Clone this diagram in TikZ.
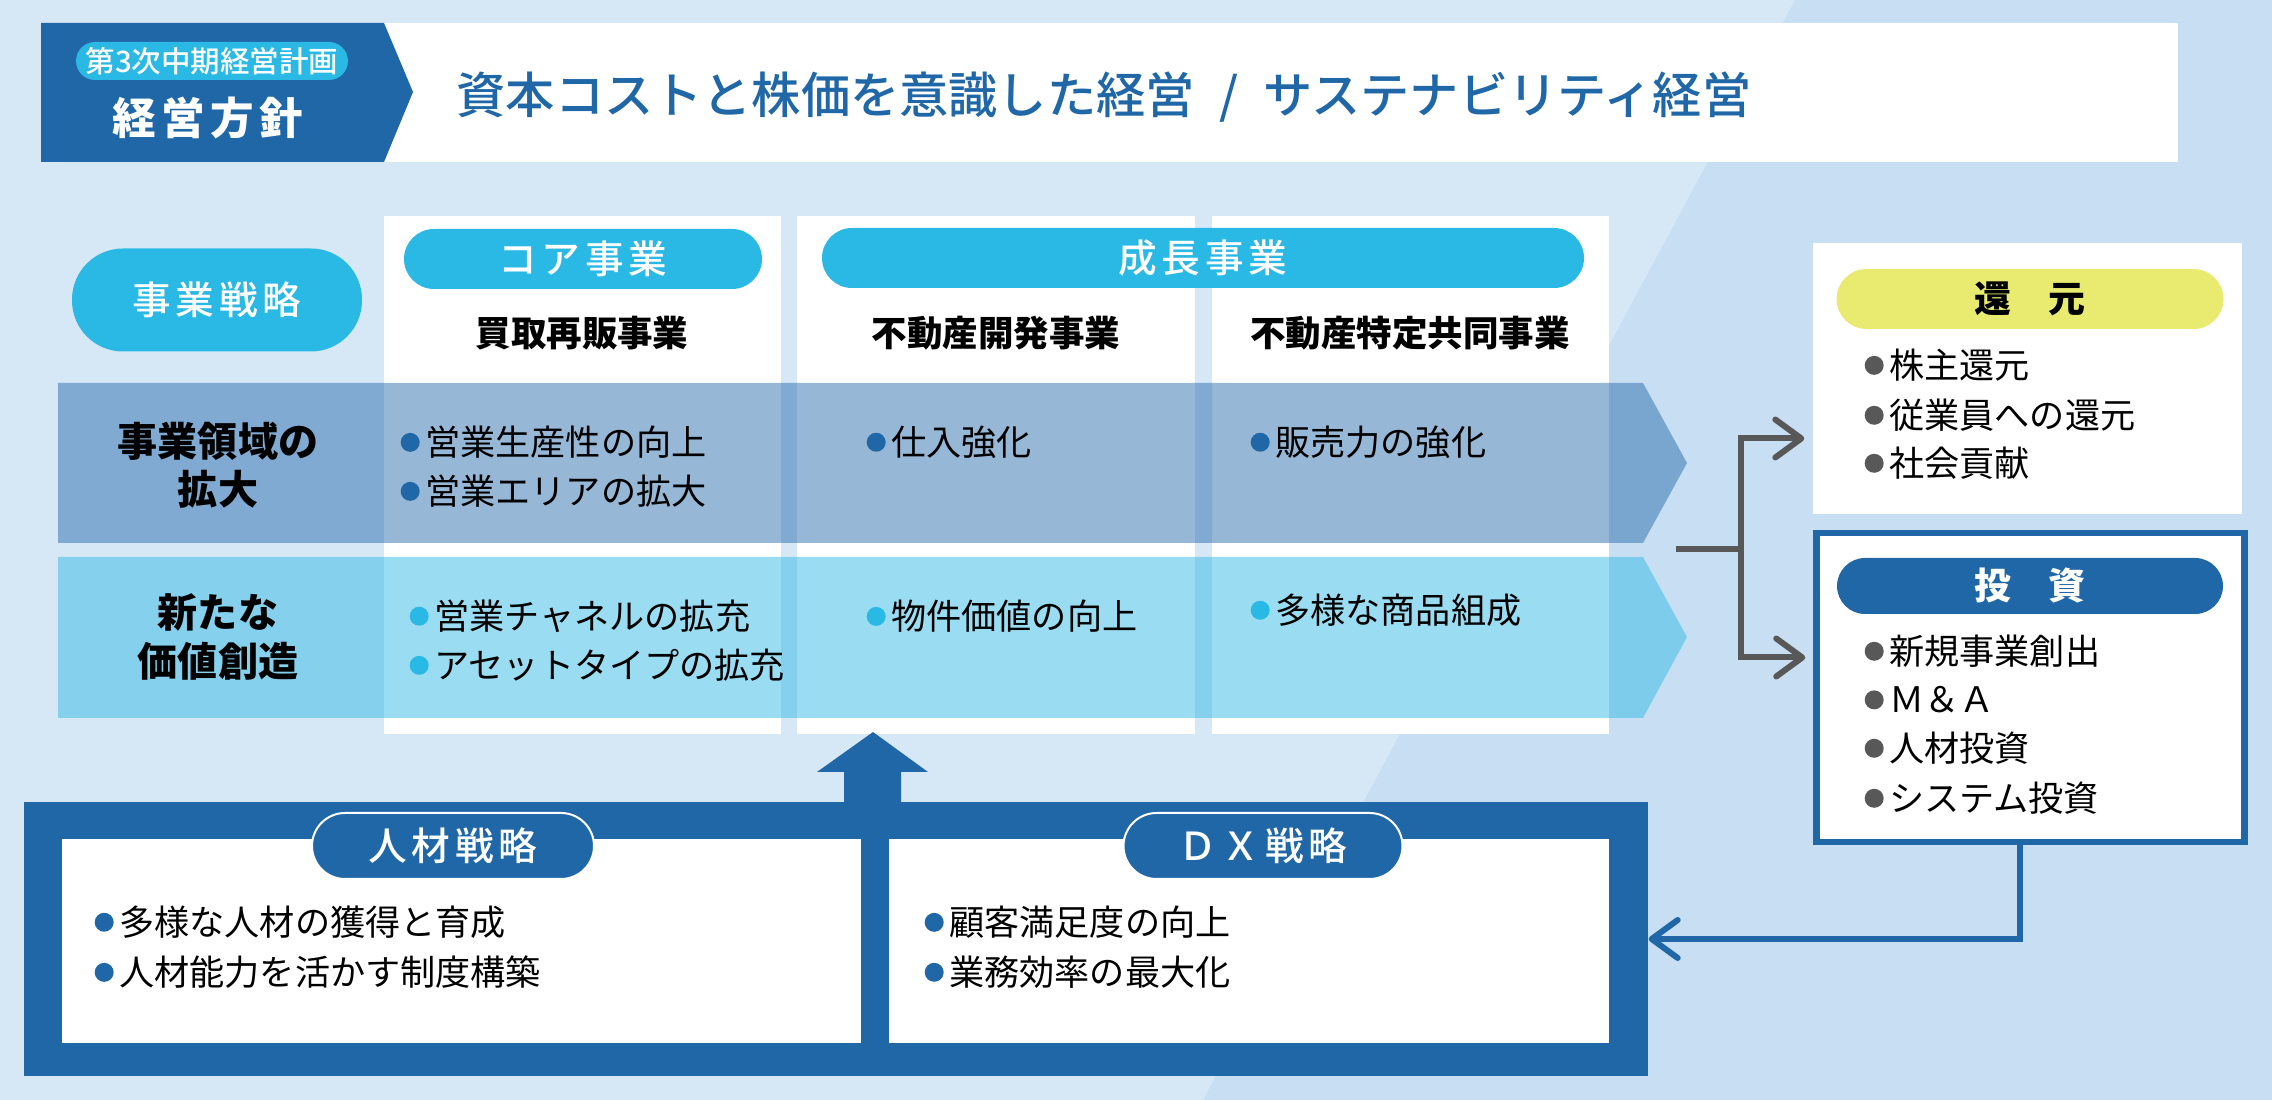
\documentclass[tikz,border=0pt]{standalone}
\usepackage{fontspec}
\setmainfont{Noto Sans CJK JP}
\newfontfamily\jpsp[LetterSpace=12]{Noto Sans CJK JP}
\newfontfamily\jpmed{Noto Sans CJK JP Medium}
\newfontfamily\jpmedsp[LetterSpace=12]{Noto Sans CJK JP Medium}
\usetikzlibrary{arrows.meta,calc}
\definecolor{cblue}{RGB}{32,103,168}
\definecolor{ccyan}{RGB}{42,184,228}
\definecolor{cyellow}{RGB}{232,235,112}
\definecolor{cgray}{RGB}{88,88,88}
\definecolor{bgA}{RGB}{214,231,246}
\definecolor{bgB}{RGB}{200,223,243}
\newcommand\bul[1]{\tikz[baseline=-0.37em]\fill[#1] (0,0) circle (0.27em);\hspace{0.16em}}

\begin{document}
\begin{tikzpicture}[x=0.1mm,y=-0.1mm,
    pill/.style={fill=ccyan,rounded corners=3mm,minimum height=6mm,inner sep=0pt,text=white,font=\jpmedsp\fontsize{11pt}{13pt}\selectfont},
    box/.style={fill=white,inner sep=0pt},
    item/.style={anchor=west,inner sep=0pt,font=\fontsize{10pt}{12pt}\selectfont},
    rowlbl/.style={align=center,inner sep=0pt,font=\bfseries\fontsize{11.4pt}{13.7pt}\selectfont},
    colhd/.style={inner sep=0pt,font=\bfseries\fontsize{10.1pt}{12pt}\selectfont},
    band/.style={fill opacity=0.47},
    conn/.style={line width=0.6mm,line cap=round,-{Straight Barb[length=2.6mm,width=3.8mm,round]}}]
\useasboundingbox (0,0) rectangle (2272,1100);
\fill[bgA] (0,0) rectangle (2272,1100);
\fill[bgB] (1795,0) -- (2272,0) -- (2272,1100) -- (1203,1100) -- cycle;

\fill[white] (300,23) rectangle (2178,162);
\fill[cblue] (41,23) -- (384,23) -- (413,92) -- (384,162) -- (41,162) -- cycle;
\node[pill,minimum width=27.2mm,minimum height=3.8mm,rounded corners=1.9mm,font=\jpmed\fontsize{8.4pt}{10pt}\selectfont] (plan) at (212,61) {第3次中期経営計画};
\node[text=white,inner sep=0pt,font=\jpsp\bfseries\fontsize{12.4pt}{14pt}\selectfont] (policy) at (208,118) {経営方針};
\node[anchor=west,inner sep=0pt,text=cblue,font=\jpmed\fontsize{14pt}{16pt}\selectfont] (title) at (456,97) {資本コストと株価を意識した経営\hspace{0.5em}/\hspace{0.5em}サステナビリティ経営};

\foreach \a/\b in {384/781,797/1195,1212/1609} \fill[white] (\a,216) rectangle (\b,734);
\node[pill,minimum width=29mm,minimum height=10.3mm,rounded corners=5.1mm] (strat) at (217,300) {事業戦略};
\node[pill,minimum width=35.8mm] (core) at (583,259) {コア事業};
\node[pill,minimum width=76.2mm] (grow) at (1203,258) {成長事業};
\node[colhd] (c1) at (582,333) {買取再販事業};
\node[colhd] (c2) at (996,333) {不動産開発事業};
\node[colhd] (c3) at (1410,333) {不動産特定共同事業};

\fill[cblue,band] (58,383) -- (1643,383) -- (1687,463) -- (1643,543) -- (58,543) -- cycle;
\fill[ccyan,band] (58,557) -- (1643,557) -- (1687,637) -- (1643,718) -- (58,718) -- cycle;
\node[rowlbl] (r1) at (218,465) {事業領域の\\拡大};
\node[rowlbl] (r2) at (218,637) {新たな\\価値創造};

\node[box,minimum width=42.9mm,minimum height=27.1mm] (ret) at (2027.5,378.5) {};
\node[box,draw=cblue,line width=0.65mm,minimum width=42.8mm,minimum height=30.9mm] (inv) at (2030.5,687.5) {};
\node[pill,fill=cyellow,text=black,minimum width=38.7mm,font=\bfseries\fontsize{10.5pt}{12pt}\selectfont] (retl) at (2030,299) {還　元};
\node[pill,fill=cblue,minimum width=38.6mm,minimum height=5.6mm,rounded corners=2.8mm,font=\bfseries\fontsize{10.5pt}{12pt}\selectfont] (invl) at (2030,586) {投　資};

\node[fill=cblue,minimum width=162.4mm,minimum height=27.4mm,inner sep=0pt] (frame) at (836,939) {};
\fill[cblue] (844,803) -- (844,772) -- (817,772) -- (873,732) -- (928,772) -- (901,772) -- (901,803) -- cycle;
\fill[white] (62,839) rectangle (861,1043);
\fill[white] (889,839) rectangle (1609,1043);
\node[pill,fill=cblue,draw=white,line width=0.2mm,minimum width=28.2mm,minimum height=6.6mm,rounded corners=3.3mm] (hr) at (453,846) {人材戦略};
\node[pill,fill=cblue,draw=white,line width=0.2mm,minimum width=27.9mm,minimum height=6.6mm,rounded corners=3.3mm] (dx) at (1263,846) {ＤＸ戦略};

\foreach \x/\y/\c/\t [count=\k] in {400/442/cblue/営業生産性の向上,400/491/cblue/営業エリアの拡大,866/442/cblue/仕入強化,1250/442/cblue/販売力の強化,
    409/616/ccyan/営業チャネルの拡充,409/665/ccyan/アセットタイプの拡充,866/616/ccyan/物件価値の向上,1250/610/ccyan/多様な商品組成,
    1864/365/cgray/株主還元,1864/415/cgray/従業員への還元,1864/463/cgray/社会貢献,
    1864/651/cgray/新規事業創出,1864/700/cgray/Ｍ＆Ａ,1864/748/cgray/人材投資,1864/798/cgray/システム投資,
    94/922/cblue/多様な人材の獲得と育成,94/972/cblue/人材能力を活かす制度構築,924/922/cblue/顧客満足度の向上,924/972/cblue/業務効率の最大化}
  \node[item] (it\k) at (\x,\y) {\bul{\c}\t};

\coordinate (stub) at (1676,549);
\coordinate (fork) at (1741,549);
\draw[cgray,line width=0.6mm] (stub) -- (fork);
\draw[conn,cgray] (fork) |- ($(ret.west)+(-8,60)$);
\draw[conn,cgray] (fork) |- ($(inv.west)+(-8,-30)$);
\draw[conn,cblue] ($(inv.south)+(-11,0)$) |- (frame.east);
\end{tikzpicture}
\end{document}
